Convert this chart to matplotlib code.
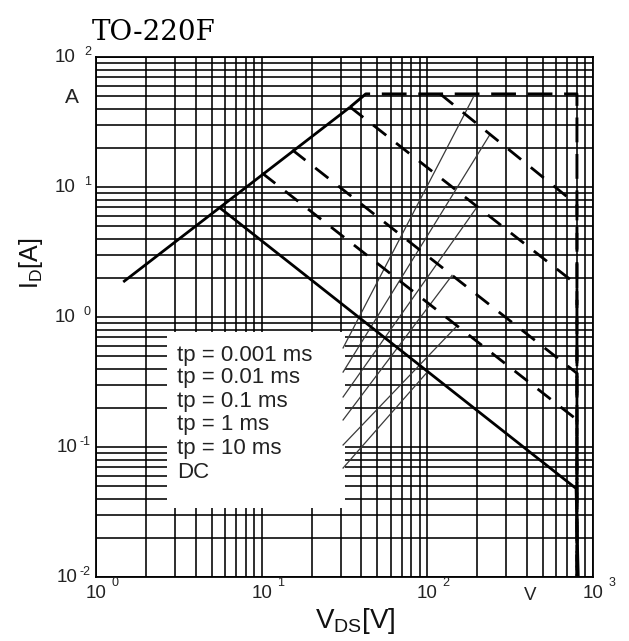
import numpy as np
import matplotlib
matplotlib.use("Agg")
import matplotlib.pyplot as plt
from matplotlib.patches import Rectangle
from matplotlib.ticker import LogLocator, NullFormatter

plt.rcParams['font.family'] = ['Liberation Sans', 'DejaVu Sans']
plt.rcParams['mathtext.fontset'] = 'custom'
plt.rcParams['mathtext.rm'] = 'Liberation Sans'

# ---- safe operating area data (V_DS in volts, I_D in amperes) ----
rds_v = [1.46, 34.2]
rds_i = [1.86, 41.2]

tp_0001_v = [34.2, 42.5, 800, 800]
tp_0001_i = [41.2, 52.0, 52.0, 0.01]

tp_001_v = [119.5, 800, 800]
tp_001_i = [52.0, 7.3, 0.01]

tp_01_v = [34.2, 800, 800]
tp_01_i = [41.2, 1.77, 0.01]

tp_1_v = [15.3, 800, 800]
tp_1_i = [19.3, 0.369, 0.01]

tp_10_v = [10.06, 800, 800]
tp_10_i = [12.8, 0.162, 0.01]

dc_v = [5.61, 790, 815]
dc_i = [6.89, 0.048, 0.01]

legend_labels = ["tp = 0.001 ms", "tp = 0.01 ms", "tp = 0.1 ms",
                 "tp = 1 ms", "tp = 10 ms", "DC"]
legend_y = [0.510, 0.340, 0.222, 0.1477, 0.0982, 0.0642]
legend_x = 3.07

# leader lines from the legend block to each curve
leader_v0 = 31.0
leader_i0 = [0.578, 0.377, 0.2425, 0.1614, 0.1036, 0.0689]
leader_v1 = [194, 239, 200, 141, 151, 101]
leader_i1 = [52.0, 25.4, 7.05, 2.09, 0.853, 0.383]

# legend background block (data coordinates)
box_v = [2.68, 31.9]
box_i = [0.034, 0.767]

x_ticks = [1, 10, 100, 1000]
x_exps = ["0", "1", "2", "3"]
y_ticks = [0.01, 0.1, 1, 10, 100]
y_exps = ["-2", "-1", "0", "1", "2"]

W, H = 629, 641
fig = plt.figure(figsize=(W / 100, H / 100), dpi=100)
ax = fig.add_axes([96 / W, 1 - 577 / H, 497 / W, 520 / H])
ax.set_xscale('log')
ax.set_yscale('log')
ax.set_xlim(1, 1000)
ax.set_ylim(0.01, 100)

for axis in (ax.xaxis, ax.yaxis):
    axis.set_major_locator(LogLocator(base=10, numticks=20))
    axis.set_minor_locator(LogLocator(base=10, subs=np.arange(2, 10), numticks=100))
    axis.set_minor_formatter(NullFormatter())
ax.set_axisbelow(True)
ax.grid(which='both', color='black', linewidth=1.15)
ax.tick_params(which='both', length=0, labelbottom=False, labelleft=False)
for sp in ax.spines.values():
    sp.set_linewidth(1.3)
    sp.set_color('black')

# white block behind the legend text
ax.add_patch(Rectangle((box_v[0], box_i[0]), box_v[1] - box_v[0], box_i[1] - box_i[0],
                       facecolor='white', edgecolor='none', zorder=1))

# curves
dash = (0, (6.0, 4.5))
ax.plot(rds_v, rds_i, color='black', lw=2.0, zorder=4, solid_capstyle='butt')
ax.plot(tp_0001_v, tp_0001_i, color='black', lw=2.1, ls=(0, (8.5, 4.0)), zorder=4)
ax.plot(tp_001_v, tp_001_i, color='black', lw=2.0, ls=dash, zorder=4)
ax.plot(tp_01_v, tp_01_i, color='black', lw=2.0, ls=dash, zorder=4)
ax.plot(tp_1_v, tp_1_i, color='black', lw=2.0, ls=dash, zorder=4)
ax.plot(tp_10_v, tp_10_i, color='black', lw=2.0, ls=dash, zorder=4)
ax.plot(dc_v, dc_i, color='black', lw=2.0, zorder=4)

for i0, v1, i1 in zip(leader_i0, leader_v1, leader_i1):
    ax.plot([leader_v0, v1], [i0, i1], color='#3a3a3a', lw=0.9, zorder=3)

for lab, yv in zip(legend_labels, legend_y):
    ax.text(legend_x, yv, lab, fontsize=16, color='#222222',
            ha='left', va='center', zorder=5)

tick_kw = dict(color='#222222', annotation_clip=False)
# x tick labels: "10" with a raised exponent
for v, e in zip(x_ticks, x_exps):
    t10 = ax.annotate("10", xy=(v, 0), xycoords=('data', 'axes fraction'),
                      xytext=(0, -8), textcoords='offset pixels',
                      ha='center', va='top', fontsize=13.5, **tick_kw)
    ax.annotate(e, xy=(1, 1), xycoords=t10, xytext=(5, 8),
                textcoords='offset pixels', ha='left', va='top',
                fontsize=9, **tick_kw)
# y tick labels; positive exponents keep an empty sign slot
for v, e in zip(y_ticks, y_exps):
    te = ax.annotate(e, xy=(0, v), xycoords=('axes fraction', 'data'),
                     xytext=(-5, 11), textcoords='offset pixels',
                     ha='right', va='top', fontsize=9, **tick_kw)
    gap = 3 if e.startswith('-') else 9
    ax.annotate("10", xy=(0, v), xycoords=(te, 'data'),
                xytext=(-gap, 0), textcoords='offset pixels',
                ha='right', va='center', fontsize=13.5, **tick_kw)

# unit markers
ax.annotate("A", xy=(0, 49), xycoords=('axes fraction', 'data'),
            xytext=(-24, 0), textcoords='offset pixels',
            ha='center', va='center', fontsize=15, **tick_kw)
ax.annotate("V", xy=(418, 0), xycoords=('data', 'axes fraction'),
            xytext=(0, -19), textcoords='offset pixels',
            ha='center', va='center', fontsize=13.5, **tick_kw)

fig.text(355 / W, 1 - 621 / H, r"$\mathregular{V_{DS}[V]}$", fontsize=20,
         ha='center', va='center', color='#111111')
fig.text(31 / W, 1 - 263 / H, r"$\mathregular{I_D[A]}$", fontsize=18,
         rotation=90, ha='center', va='center', color='#111111')
fig.text(92 / W, 1 - 40 / H, "TO-220F", fontsize=20, family='DejaVu Serif',
         ha='left', va='baseline', color='black')

fig.savefig("out.png", dpi=100, facecolor='white')
